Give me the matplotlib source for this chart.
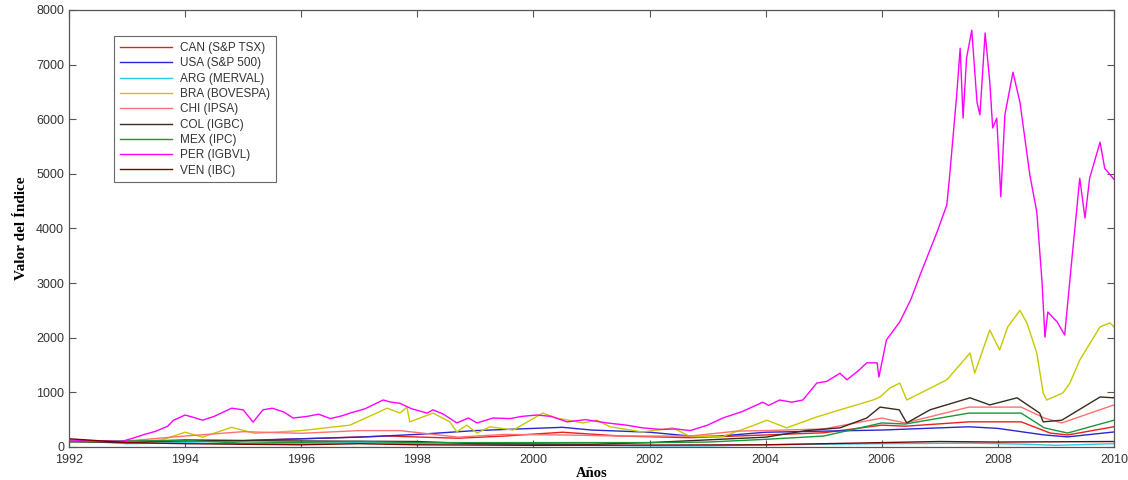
import matplotlib
matplotlib.use("Agg")
import matplotlib.pyplot as plt

# series (decimal year, index value)
can_x = [1992.0, 1993.0, 1994.0, 1995.0, 1996.0, 1997.5, 1998.7, 1999.5, 2000.5, 2001.5, 2002.7, 2004.0, 2005.0, 2006.0, 2006.4, 2007.5, 2008.4, 2008.9, 2009.2, 2010.0]
can_y = [100, 95, 130, 120, 150, 200, 160, 200, 270, 200, 170, 220, 260, 400, 380, 460, 460, 255, 220, 370]

usa_x = [1992.0, 1993.0, 1994.0, 1995.0, 1996.0, 1997.0, 1998.0, 1999.0, 2000.5, 2001.0, 2002.0, 2002.8, 2003.2, 2004.0, 2005.0, 2006.0, 2007.5, 2008.0, 2008.8, 2009.2, 2010.0]
usa_y = [100, 105, 110, 115, 150, 180, 230, 300, 360, 310, 270, 190, 200, 270, 290, 310, 370, 340, 220, 185, 275]

arg_x = [1992.0, 1992.5, 1993.0, 1994.0, 1995.0, 1996.0, 1997.0, 1998.0, 2000.0, 2001.0, 2002.0, 2003.0, 2004.0, 2006.0, 2007.5, 2008.5, 2009.0, 2010.0]
arg_y = [100, 90, 60, 80, 50, 60, 80, 60, 50, 30, 20, 20, 40, 60, 70, 50, 30, 60]

bra_x = [1992.0, 1993.0, 1993.6, 1994.0, 1994.3, 1994.8, 1995.2, 1996.0, 1996.84, 1997.48, 1997.7, 1997.82, 1997.87, 1998.27, 1998.56, 1998.68, 1998.85, 1999.03, 1999.25, 1999.65, 2000.16, 2000.4, 2000.85, 2001.09, 2001.32, 2001.88, 2002.4, 2002.7, 2003.26, 2003.73, 2004.02, 2004.36, 2004.88, 2005.28, 2005.85, 2005.97, 2006.14, 2006.31, 2006.43, 2007.12, 2007.52, 2007.6, 2007.86, 2008.03, 2008.17, 2008.38, 2008.5, 2008.67, 2008.78, 2008.84, 2009.12, 2009.24, 2009.41, 2009.76, 2009.93, 2010.0]
bra_y = [100, 90, 130, 270, 180, 360, 250, 300, 400, 710, 620, 730, 460, 620, 460, 275, 400, 255, 370, 310, 620, 530, 440, 490, 370, 275, 350, 190, 190, 370, 490, 350, 550, 680, 860, 915, 1080, 1170, 860, 1230, 1720, 1350, 2140, 1775, 2200, 2500, 2270, 1720, 990, 860, 990, 1170, 1590, 2200, 2270, 2200]

chi_x = [1992.0, 1993.0, 1994.0, 1995.0, 1996.0, 1997.0, 1997.7, 1998.7, 1999.5, 2000.5, 2001.5, 2002.7, 2003.5, 2004.0, 2005.0, 2006.0, 2006.4, 2007.5, 2008.4, 2008.8, 2009.1, 2010.0]
chi_y = [100, 110, 200, 280, 250, 300, 300, 180, 230, 220, 200, 200, 290, 300, 330, 530, 440, 730, 730, 530, 440, 770]

col_x = [1992.0, 1993.0, 1994.0, 1996.0, 1998.0, 1999.0, 2001.0, 2002.0, 2003.0, 2004.0, 2004.7, 2005.28, 2005.74, 2005.97, 2006.3, 2006.43, 2006.83, 2007.52, 2007.86, 2008.33, 2008.72, 2008.78, 2009.1, 2009.76, 2010.0]
col_y = [100, 80, 120, 110, 100, 60, 50, 80, 130, 180, 300, 350, 530, 730, 680, 440, 680, 900, 770, 900, 620, 460, 490, 915, 900]

mex_x = [1992.0, 1993.0, 1994.0, 1995.0, 1997.0, 1998.0, 2000.0, 2002.0, 2003.0, 2004.0, 2005.0, 2006.0, 2006.4, 2007.5, 2008.4, 2008.8, 2009.2, 2010.0]
mex_y = [100, 110, 120, 70, 100, 80, 80, 80, 90, 140, 200, 440, 420, 620, 620, 350, 255, 490]

per_x = [1992.0, 1992.3, 1992.6, 1992.9, 1993.1, 1993.3, 1993.5, 1993.7, 1993.8, 1994.0, 1994.15, 1994.3, 1994.5, 1994.8, 1995.0, 1995.17, 1995.34, 1995.5, 1995.7, 1995.86, 1996.1, 1996.3, 1996.5, 1996.7, 1996.84, 1997.1, 1997.41, 1997.55, 1997.7, 1997.9, 1998.17, 1998.27, 1998.45, 1998.68, 1998.88, 1999.03, 1999.3, 1999.6, 1999.8, 2000.06, 2000.3, 2000.58, 2000.9, 2001.27, 2001.6, 2001.88, 2002.2, 2002.45, 2002.7, 2003.0, 2003.26, 2003.6, 2003.95, 2004.05, 2004.24, 2004.45, 2004.64, 2004.88, 2005.05, 2005.28, 2005.4, 2005.6, 2005.74, 2005.92, 2005.95, 2006.08, 2006.31, 2006.5, 2006.66, 2006.95, 2007.12, 2007.17, 2007.29, 2007.35, 2007.4, 2007.46, 2007.55, 2007.64, 2007.69, 2007.78, 2007.86, 2007.91, 2007.98, 2008.05, 2008.12, 2008.26, 2008.38, 2008.55, 2008.67, 2008.76, 2008.81, 2008.86, 2009.02, 2009.15, 2009.27, 2009.41, 2009.5, 2009.58, 2009.76, 2009.84, 2010.0]
per_y = [130, 120, 110, 100, 160, 230, 290, 380, 490, 585, 540, 490, 560, 710, 680, 455, 680, 710, 640, 530, 560, 600, 520, 570, 620, 700, 860, 820, 800, 700, 620, 680, 600, 440, 530, 440, 530, 520, 560, 585, 560, 460, 500, 440, 400, 350, 320, 330, 300, 400, 530, 650, 820, 760, 860, 820, 860, 1170, 1200, 1350, 1230, 1400, 1540, 1540, 1280, 1960, 2290, 2700, 3150, 3930, 4430, 4980, 6440, 7300, 6020, 7120, 7630, 6310, 6080, 7580, 6680, 5840, 6020, 4580, 6080, 6860, 6310, 4980, 4300, 3020, 2010, 2470, 2290, 2050, 3390, 4920, 4190, 4920, 5580, 5100, 4900]

ven_x = [1992.0, 1993.0, 1994.0, 1996.0, 1997.0, 1998.0, 2000.0, 2004.0, 2006.0, 2007.0, 2008.0, 2010.0]
ven_y = [150, 80, 60, 40, 60, 40, 30, 40, 80, 100, 90, 100]

labels = ["CAN (S&P TSX)", "USA (S&P 500)", "ARG (MERVAL)", "BRA (BOVESPA)", "CHI (IPSA)",
          "COL (IGBC)", "MEX (IPC)", "PER (IGBVL)", "VEN (IBC)"]
colors = ["#e82020", "#2828d0", "#30c8e8", "#c8c800", "#ff7070",
          "#3a2a1e", "#189838", "#ff00ff", "#800000"]
xs = [can_x, usa_x, arg_x, bra_x, chi_x, col_x, mex_x, per_x, ven_x]
ys = [can_y, usa_y, arg_y, bra_y, chi_y, col_y, mex_y, per_y, ven_y]

fig = plt.figure(figsize=(11.28, 4.8), dpi=100)
ax = fig.add_axes([0.0612, 0.0688, 0.9264, 0.9104])

for x, y, c, lab in zip(xs, ys, colors, labels):
    ax.plot(x, y, color=c, lw=1.0, label=lab)

ax.set_xlim(1992, 2010)
ax.set_ylim(0, 8000)
ax.set_xticks(range(1992, 2011, 2))
ax.set_yticks(range(0, 8001, 1000))
ax.tick_params(direction="in", top=True, right=True, length=5, width=0.8,
               labelsize=9, labelcolor="#333333", color="#555555")
ax.tick_params(axis="x", pad=5)
for lbl in ax.get_xticklabels() + ax.get_yticklabels():
    lbl.set_family("Liberation Sans")
for s in ax.spines.values():
    s.set_color("#555555")
    s.set_linewidth(0.9)

ax.set_xlabel("Años", family="Liberation Serif", fontweight="bold", fontsize=10.5, labelpad=1)
ax.set_ylabel("Valor del Índice", family="Liberation Serif", fontweight="bold", fontsize=11, labelpad=6)

leg = ax.legend(loc="upper left", bbox_to_anchor=(0.043, 0.94), borderaxespad=0,
                prop={"family": "Liberation Sans", "size": 8.5},
                frameon=True, fancybox=False, edgecolor="#444444", handlelength=4.4,
                labelspacing=0.28, borderpad=0.5, handletextpad=0.7)
leg.get_frame().set_linewidth(0.8)
for t in leg.get_texts():
    t.set_color("#333333")

fig.savefig("out.png", dpi=100)
